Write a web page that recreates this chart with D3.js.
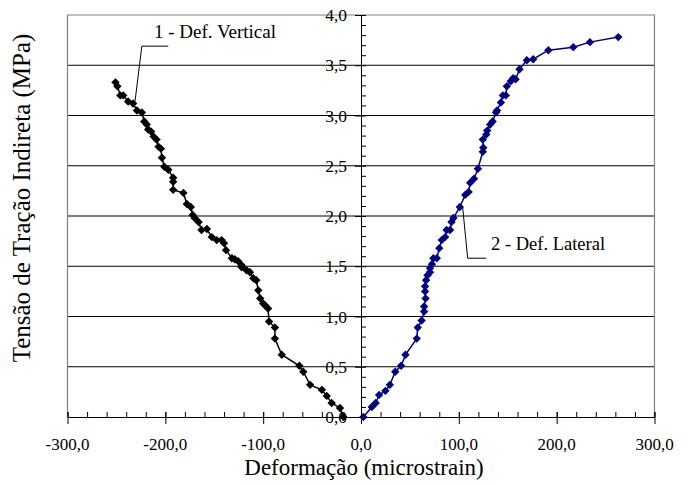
<!DOCTYPE html>
<html>
<head>
<meta charset="utf-8">
<script src="https://cdn.jsdelivr.net/npm/d3@7"></script>
<style>
  body { margin: 0; background: #fff; }
  svg { display: block; font-family: "Liberation Serif", "DejaVu Serif", serif; }
  text { fill: #000; }
</style>
</head>
<body>
<div id="chart"></div>
<script>
// series 1 - vertical deformation (black)
var vertStrain = [-18, -21.5, -30, -35, -40, -52, -59, -63, -81, -88, -88, -94, -95, -98, -100, -103, -105, -107, -110, -113.5, -117, -122, -122, -125.5, -129, -132, -138, -140, -142.5, -147.5, -152.5, -157.5, -163, -166, -170, -172, -174, -178, -181.5, -192, -192, -192, -197, -201, -203.5, -204.5, -207, -209, -212, -214.5, -217.5, -219, -221.5, -224, -229, -233, -238, -243, -246, -249, -251];
var vertStress = [0.00, 0.09, 0.14, 0.21, 0.27, 0.32, 0.45, 0.51, 0.62, 0.78, 0.89, 0.95, 1.08, 1.11, 1.13, 1.18, 1.26, 1.36, 1.38, 1.44, 1.46, 1.49, 1.51, 1.55, 1.57, 1.58, 1.66, 1.73, 1.76, 1.76, 1.79, 1.87, 1.86, 1.94, 1.98, 2.01, 2.09, 2.12, 2.23, 2.26, 2.34, 2.38, 2.46, 2.49, 2.58, 2.67, 2.69, 2.76, 2.79, 2.84, 2.86, 2.91, 2.94, 3.03, 3.05, 3.12, 3.14, 3.20, 3.20, 3.29, 3.33];

// series 2 - lateral deformation (navy)
var latStrain = [2.4, 11, 15, 18.5, 25, 29.5, 35, 41, 45.5, 57, 58, 62, 64.5, 64.5, 66, 65.5, 65.5, 66.5, 68, 70.5, 70.5, 72.5, 74, 77.5, 80, 82.5, 86, 87.5, 91, 92.5, 94.5, 101, 106.5, 110, 111.5, 115.5, 119.5, 124.5, 125, 124.5, 128, 129, 132, 134.5, 138, 139, 143, 145, 148, 149, 153, 155.5, 158, 162, 169.5, 176, 191.5, 217, 234, 263];
var latStress = [0.00, 0.10, 0.14, 0.22, 0.26, 0.32, 0.45, 0.51, 0.62, 0.78, 0.89, 0.96, 1.05, 1.10, 1.18, 1.25, 1.30, 1.36, 1.41, 1.44, 1.48, 1.52, 1.58, 1.58, 1.68, 1.76, 1.79, 1.86, 1.86, 1.94, 1.98, 2.09, 2.21, 2.24, 2.33, 2.37, 2.47, 2.64, 2.68, 2.76, 2.81, 2.85, 2.91, 2.94, 3.03, 3.05, 3.13, 3.20, 3.20, 3.29, 3.34, 3.37, 3.36, 3.46, 3.55, 3.56, 3.65, 3.68, 3.73, 3.78];

var xTicks = [-300, -200, -100, 0, 100, 200, 300];
var yTicks = [0, 0.5, 1, 1.5, 2, 2.5, 3, 3.5, 4];

var width = 690, height = 484;
var plotLeft = 67.5, plotRight = 654.5, plotTop = 15, plotBottom = 417;

var svg = d3.select("#chart").append("svg")
    .attr("width", width)
    .attr("height", height);

var x = d3.scaleLinear().domain([-300, 300]).range([plotLeft, plotRight]);
var y = d3.scaleLinear().domain([0, 4]).range([plotBottom, plotTop]);

var comma = function(v) { return v.toFixed(1).replace(".", ","); };

// gridlines
svg.append("g").selectAll("line")
    .data(yTicks.filter(function(d) { return d > 0 && d < 4; }))
    .enter().append("line")
    .attr("x1", plotLeft).attr("x2", plotRight)
    .attr("y1", function(d) { return y(d); })
    .attr("y2", function(d) { return y(d); })
    .attr("stroke", "#000").attr("stroke-width", 1);

// plot border
svg.append("path")
    .attr("d", "M" + plotLeft + "," + plotBottom + "V" + plotTop + "H" + plotRight + "V" + plotBottom)
    .attr("fill", "none").attr("stroke", "#808080").attr("stroke-width", 1.2);

// x axis with minor ticks
var xAxis = svg.append("g").attr("transform", "translate(0," + plotBottom + ")");
xAxis.call(d3.axisTop(x).ticks(30).tickSize(5).tickFormat(""))
    .call(function(g) { g.select(".domain").remove(); });
xAxis.append("g").call(d3.axisBottom(x).tickValues(xTicks).tickSize(7).tickSizeOuter(0).tickFormat(""));
xAxis.append("g").call(d3.axisTop(x).tickValues(xTicks).tickSize(5).tickSizeOuter(0).tickFormat(""))
    .call(function(g) { g.select(".domain").remove(); });
xAxis.selectAll("line, path").attr("stroke", "#000");

svg.append("g").selectAll("text")
    .data(xTicks).enter().append("text")
    .attr("x", function(d) { return x(d); })
    .attr("y", 450)
    .attr("text-anchor", "middle")
    .attr("font-size", 17)
    .text(comma);

// y axis at zero with minor ticks
var yAxis = svg.append("g").attr("transform", "translate(" + x(0) + ",0)");
yAxis.call(d3.axisRight(y).ticks(40).tickSize(5).tickFormat(""))
    .call(function(g) { g.select(".domain").remove(); });
yAxis.append("g").call(d3.axisLeft(y).tickValues(yTicks).tickSize(6).tickSizeOuter(0).tickFormat(""));
yAxis.selectAll("line, path").attr("stroke", "#000");

svg.append("g").selectAll("text")
    .data(yTicks).enter().append("text")
    .attr("x", x(0) - 14)
    .attr("y", function(d) { return y(d); })
    .attr("dy", "0.35em")
    .attr("text-anchor", "end")
    .attr("font-size", 17.5)
    .text(comma);

// series
var diamond = "M0,-4.2L4.2,0L0,4.2L-4.2,0Z";
function drawSeries(xs, ys, color) {
  var pts = xs.map(function(v, i) { return [v, ys[i]]; });
  svg.append("path")
      .datum(pts)
      .attr("fill", "none")
      .attr("stroke", color)
      .attr("stroke-width", 1.5)
      .attr("d", d3.line().x(function(d) { return x(d[0]); }).y(function(d) { return y(d[1]); }));
  svg.append("g").selectAll("path")
      .data(pts).enter().append("path")
      .attr("d", diamond)
      .attr("fill", color)
      .attr("transform", function(d) { return "translate(" + x(d[0]) + "," + y(d[1]) + ")"; });
}
drawSeries(vertStrain, vertStress, "#000");
drawSeries(latStrain, latStress, "#000080");

// labels with leader lines
svg.append("polyline")
    .attr("points", [[x(-197), y(3.69)], [x(-224), y(3.69)], [x(-231), y(3.14)]].join(" "))
    .attr("fill", "none").attr("stroke", "#000");
svg.append("text")
    .attr("x", 215).attr("y", 38)
    .attr("text-anchor", "middle")
    .attr("font-size", 19)
    .text("1 - Def. Vertical");

svg.append("polyline")
    .attr("points", [[x(104), y(2.08)], [x(109), y(1.58)], [x(128), y(1.58)]].join(" "))
    .attr("fill", "none").attr("stroke", "#000");
svg.append("text")
    .attr("x", 491).attr("y", 250)
    .attr("font-size", 18.5)
    .text("2 - Def. Lateral");

// axis titles
svg.append("text")
    .attr("x", 364).attr("y", 475)
    .attr("text-anchor", "middle")
    .attr("font-size", 23)
    .text("Deformação (microstrain)");

svg.append("text")
    .attr("transform", "translate(30,198)rotate(-90)")
    .attr("text-anchor", "middle")
    .attr("font-size", 25)
    .text("Tensão de Tração Indireta (MPa)");
</script>
</body>
</html>
